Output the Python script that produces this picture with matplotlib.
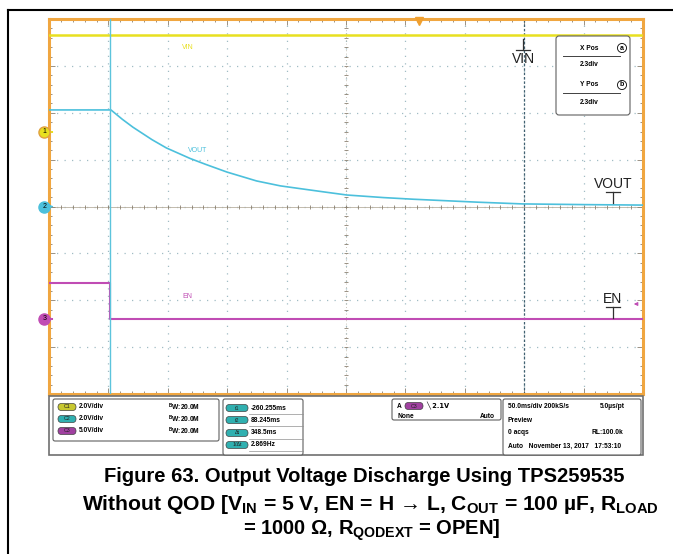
import numpy as np
import matplotlib.pyplot as plt
from matplotlib.patches import FancyBboxPatch, Rectangle

plt.rcParams['font.family'] = ['Liberation Sans', 'DejaVu Sans']
plt.rcParams['mathtext.fontset'] = 'custom'
plt.rcParams['mathtext.rm'] = 'Liberation Sans'
plt.rcParams['mathtext.bf'] = 'Liberation Sans:bold'

# scope settings (time in ms, 50 ms/div, 10 div)
t_left = -311.75
ms_per_div = 50.0
t1 = -260.255
t2 = 88.245

# channel scale (V/div) and ground position (div from bottom)
ch_scale = {'VIN': 2.0, 'VOUT': 2.0, 'EN': 5.0}
ch_offset = {'VIN': 5.59, 'VOUT': 4.0, 'EN': 1.6}

vin_t = [-311.75, 188.25]
vin_v = [4.14, 4.14]

vout_t = [-311.75, -259.6, -250, -241, -225, -213, -193, -180, -162, -137,
          -117, -100, -80, -61, -30, -5, 51, 87, 140, 188.25]
vout_v = [4.12, 4.12, 3.72, 3.38, 2.85, 2.50, 2.05, 1.80, 1.47, 1.09,
          0.88, 0.76, 0.62, 0.49, 0.38, 0.31, 0.18, 0.11, 0.08, 0.06]

en_t = [-311.75, -260.255, -260.255, 188.25]
en_v = [3.84, 3.84, 0.0, 0.0]

colors = {'VIN': '#e8e020', 'VOUT': '#4cc0dc', 'EN': '#c04cb4'}


def to_div(name, v):
    return ch_offset[name] + np.asarray(v) / ch_scale[name]


fig = plt.figure(figsize=(6.73, 5.54), dpi=100)

ax = fig.add_axes([49 / 673, 1 - 394 / 554, 594 / 673, 375 / 554])

# overlay in pixel coordinates for frame, panel and caption (drawn on top)
ov = fig.add_axes([0, 0, 1, 1], zorder=3)
ov.set_xlim(0, 673)
ov.set_ylim(554, 0)
ov.axis('off')
ov.patch.set_alpha(0)
ov.plot([8, 8], [10, 554], color='black', lw=1.5)
ov.plot([8, 673], [10, 10], color='black', lw=1.5)

t_right = t_left + 10 * ms_per_div
ax.set_xlim(t_left, t_right)
ax.set_ylim(0, 8)

# graticule
xmaj = t_left + ms_per_div * np.arange(0, 11)
xmin = t_left + ms_per_div * np.arange(0, 10.01, 0.2)
ymaj = np.arange(0, 9)
ymin = np.arange(0, 8.01, 0.2)
for x in xmaj[1:-1]:
    ax.axvline(x, color='#a0bcc4', lw=0.9, ls=(0, (1, 5)), zorder=1)
for y in ymaj[1:-1]:
    ax.axhline(y, color='#a0bcc4', lw=0.9, ls=(0, (1, 5)), zorder=1)
xc = t_left + 5 * ms_per_div
ax.plot([t_left, t_right], [4, 4], color='#b8b0a0', lw=0.6, zorder=1)
ax.plot([xc, xc], [0, 8], color='#b8b0a0', lw=0.6, ls=(0, (1, 3)), zorder=1)
ax.plot(xmin, np.full(len(xmin), 4), ls='none', marker='|', ms=3.5,
        color='#8a8070', mew=0.6, zorder=1)
ax.plot(np.full(len(ymin), xc), ymin, ls='none', marker='_', ms=3.5,
        color='#8a8070', mew=0.6, zorder=1)

ax.set_xticks(xmaj)
ax.set_xticks(xmin, minor=True)
ax.set_yticks(ymaj)
ax.set_yticks(ymin, minor=True)
ax.tick_params(which='both', direction='in', top=True, right=True,
               labelbottom=False, labelleft=False, color='#8a8070', width=0.6)
ax.tick_params(which='major', length=4)
ax.tick_params(which='minor', length=2.5)
for s in ax.spines.values():
    s.set_color('#f0a640')
    s.set_linewidth(2.2)

# traces
ax.plot(vin_t, to_div('VIN', vin_v), color=colors['VIN'], lw=1.8, zorder=3)
ax.plot(vout_t, to_div('VOUT', vout_v), color=colors['VOUT'], lw=1.2, zorder=3)
ax.plot(en_t, to_div('EN', en_v), color=colors['EN'], lw=1.5, zorder=3)

# cursors
ax.axvline(t1, color='#5cc4dc', lw=1.0, zorder=4)
ax.axvline(t2, color='#406070', lw=0.9, ls=(0, (2, 1.5)), zorder=2)

# trigger marker
ax.plot([0], [7.96], marker='v', color='#f0a030', ms=6, zorder=4, clip_on=False)

# trace labels
ax.text(-195, 7.4, 'VIN', color=colors['VIN'], fontsize=5, ha='center', va='center')
ax.text(-187, 5.2, 'VOUT', color=colors['VOUT'], fontsize=5, ha='center', va='center')
ax.text(-195, 2.09, 'EN', color=colors['EN'], fontsize=5, ha='center', va='center')

# channel ground markers
yt = ax.get_yaxis_transform()
for name, num in [('VIN', '1'), ('VOUT', '2'), ('EN', '3')]:
    y = ch_offset[name]
    ax.plot([-0.008], [y], marker='o', ms=8, color=colors[name],
            mec='#e0a040' if name == 'VIN' else colors[name],
            transform=yt, clip_on=False, zorder=5)
    ax.text(-0.008, y, num, fontsize=5, ha='center', va='center', transform=yt, zorder=6)
    ax.annotate('', xy=(0.012, y), xytext=(0.0, y), xycoords=yt, textcoords=yt,
                arrowprops=dict(arrowstyle='-|>', color=colors[name], lw=0.8, mutation_scale=5))


# black ground reference symbols
def ground_mark(x, y, label, above=True):
    ov.plot([x - 7, x + 7], [y, y], color='#303030', lw=0.9)
    if above:
        ov.plot([x, x], [y - 11, y], color='#303030', lw=0.9)
        ov.text(x, y + 2, label, fontsize=10, ha='center', va='top', color='#202020')
    else:
        ov.plot([x, x], [y, y + 11], color='#303030', lw=0.9)
        ov.text(x, y - 1, label, fontsize=10, ha='center', va='bottom', color='#202020')


ground_mark(523, 50, 'VIN', above=True)
ground_mark(613, 192, 'VOUT', above=False)
ground_mark(613, 307, 'EN', above=False)
ov.annotate('', xy=(631, 304), xytext=(640, 304),
            arrowprops=dict(arrowstyle='-|>', color=colors['EN'], lw=0.8, mutation_scale=5))

# X/Y position box
ov.add_patch(FancyBboxPatch((556, 36), 74, 79, boxstyle='round,pad=0,rounding_size=3',
                            fc='white', ec='#606060', lw=0.8, zorder=5))
for yy, lab in [(48, 'X Pos'), (85, 'Y Pos')]:
    ov.text(589, yy, lab, fontsize=4.8, weight='bold', ha='center', va='center', zorder=6)
    ov.plot([563, 620], [yy + 8, yy + 8], color='#404040', lw=0.7, zorder=6)
    ov.text(589, yy + 17, '2.3div', fontsize=4.8, weight='bold', ha='center', va='center', zorder=6)
ov.text(622, 48, 'a', fontsize=5, weight='bold', ha='center', va='center', zorder=6,
        bbox=dict(boxstyle='circle,pad=0.15', fc='white', ec='black', lw=0.6))
ov.text(622, 85, 'b', fontsize=5, weight='bold', ha='center', va='center', zorder=6,
        bbox=dict(boxstyle='circle,pad=0.15', fc='white', ec='black', lw=0.6))

# bottom status panel
ov.add_patch(Rectangle((49, 396), 594, 59, fc='white', ec='#707070', lw=1.2))


def box(x, y, w, h):
    ov.add_patch(FancyBboxPatch((x, y), w, h, boxstyle='round,pad=0,rounding_size=2',
                                fc='white', ec='#606060', lw=0.8))


def pill(x, y, label, color, w=18):
    ov.add_patch(FancyBboxPatch((x - w / 2, y - 3.5), w, 7, boxstyle='round,pad=0,rounding_size=3.5',
                                fc=color, ec='#404040', lw=0.5))
    ov.text(x, y, label, fontsize=3.8, ha='center', va='center', color='#202020')


fs = 4.8
box(53, 399, 166, 42)
for yy, lab, col, vdiv in [(407, 'C1', '#c8c830', '2.0V/div'),
                           (419, 'C2', '#30b0b0', '2.0V/div'),
                           (431, 'C3', '#a040a0', '5.0V/div')]:
    pill(67, yy, lab, col)
    ov.text(79, yy, vdiv, fontsize=fs, weight='bold', va='center')
    ov.text(168, yy, r'$^{\mathbf{B}}$' + 'W:20.0M', fontsize=fs, weight='bold', va='center')

box(223, 399, 80, 56)
for yy, lab, val in [(408, 't1', '-260.255ms'), (420, 't2', '88.245ms'),
                     (433, 'Δt', '348.5ms'), (445, '1/Δt', '2.869Hz')]:
    pill(237, yy, lab, '#30b0b0', w=22)
    ov.plot([249, 303], [yy + 6, yy + 6], color='#909090', lw=0.5)
    ov.text(251, yy, val, fontsize=fs, weight='bold', va='center')

box(392, 399, 109, 21)
ov.text(397, 406, 'A', fontsize=fs, weight='bold', va='center')
pill(414, 406, 'C3', '#a040a0')
ov.text(426, 406, '╲ 2.1V', fontsize=fs, weight='bold', va='center', family=['DejaVu Sans'])
ov.text(397, 416, 'None', fontsize=fs, weight='bold', va='center')
ov.text(480, 416, 'Auto', fontsize=fs, weight='bold', va='center')

box(503, 399, 138, 56)
ov.text(508, 407, '50.0ms/div 200kS/s', fontsize=fs, weight='bold', va='center')
ov.text(600, 407, '5.0µs/pt', fontsize=fs, weight='bold', va='center')
ov.text(508, 420, 'Preview', fontsize=fs, weight='bold', va='center')
ov.text(508, 433, '0 acqs', fontsize=fs, weight='bold', va='center')
ov.text(592, 433, 'RL:100.0k', fontsize=fs, weight='bold', va='center')
ov.text(508, 446, 'Auto   November 13, 2017   17:53:10', fontsize=fs, weight='bold', va='center')

# caption
cap = dict(fontsize=14.5, weight='bold', ha='center', va='center')
ov.text(364, 477, 'Figure 63. Output Voltage Discharge Using TPS259535', **cap)
ov.text(370, 504, r'Without QOD [V$_{\mathbf{IN}}$ = 5 V, EN = H → L, C$_{\mathbf{OUT}}$ = 100 µF, R$_{\mathbf{LOAD}}$',
        fontsize=15.2, weight='bold', ha='center', va='center')
ov.text(372, 530, r'= 1000 Ω, R$_{\mathbf{QODEXT}}$ = OPEN]', **cap)

fig.savefig('out.png', dpi=100)
